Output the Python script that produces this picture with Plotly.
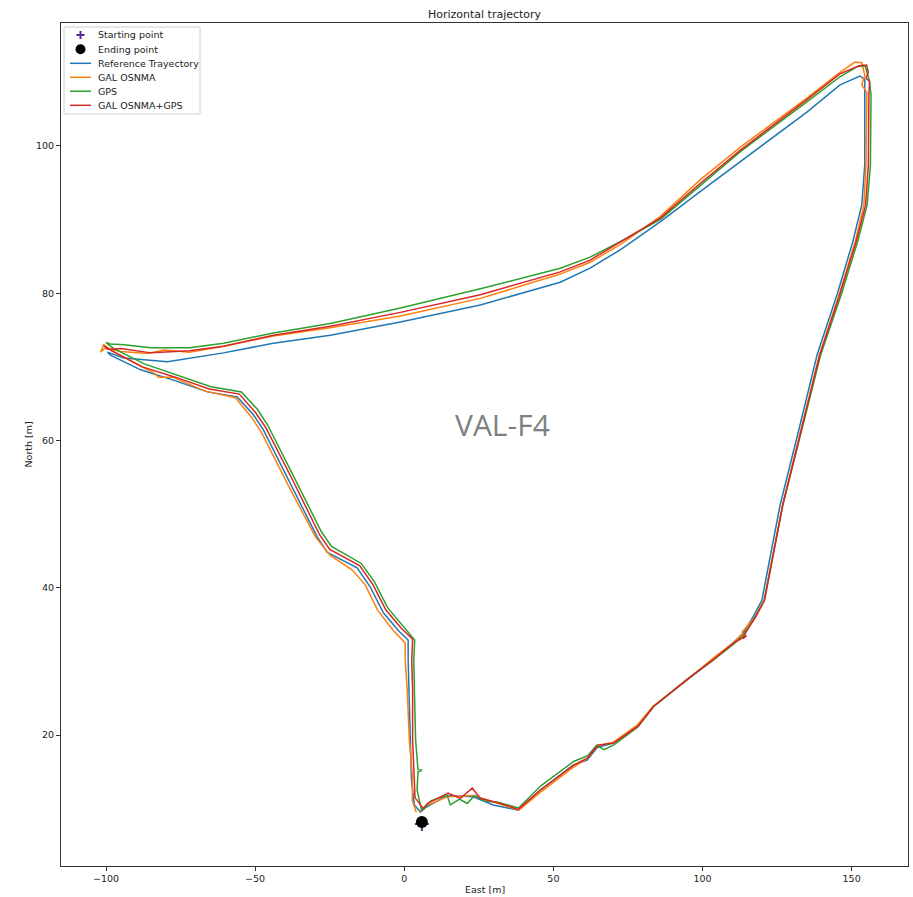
import plotly.graph_objects as go

# ---------------- data (East / North in metres) ----------------
ref_e = [5.4, 3.4, 2.4, 2.0, 1.7, 1.3, 1.3, -2.0, -7.0, -11.4, -15.8, -25.8, -29.2, -38.2, -47.2, -50.6,
         -56.0, -66.0, -77.4, -88.4, -98.5, -99.5, -94.1, -79.4, -60.6, -43.9, -24.8, -1.3, 25.5, 52.3,
         62.3, 72.4, 85.8, 99.2, 112.6, 135.0, 146.1, 152.8, 154.4, 154.4, 154.4, 153.4, 150.4, 145.1,
         138.4, 132.7, 126.0, 119.9, 116.9, 113.6, 110.2, 103.5, 94.8, 83.4, 78.1, 70.0, 64.7, 61.3,
         56.6, 45.6, 38.2, 29.8, 23.1, 14.4, 7.0, 5.4]
ref_n = [9.5, 10.5, 13.9, 19.3, 26.1, 30.2, 32.9, 34.2, 36.6, 40.1, 42.7, 44.8, 46.9, 54.2, 61.4, 63.5,
         65.9, 66.6, 68.2, 69.6, 71.6, 72.0, 71.2, 70.7, 71.9, 73.2, 74.3, 76.1, 78.4, 81.5,
         83.4, 85.9, 89.7, 93.8, 97.8, 104.6, 108.3, 109.5, 109.0, 106.9, 97.4, 92.0, 87.0, 79.8,
         71.6, 62.1, 51.2, 38.3, 36.0, 33.8, 32.5, 30.2, 27.5, 23.8, 21.1, 18.9, 18.3, 16.6,
         15.9, 12.5, 9.8, 10.5, 11.6, 11.8, 10.1, 9.5]

gal_e = [4.0, 2.7, 2.7, 1.7, 1.0, 0.3, 0.3, -3.7, -9.0, -13.1, -17.4, -24.8, -29.8, -38.9, -47.9, -51.3,
         -56.6, -66.7, -77.7, -82.4, -84.0, -88.4, -98.5, -100.8, -101.8, -100.2, -95.0, -86.0, -80.5,
         -72.0, -60.6, -43.9, -24.8, -1.3, 25.5, 52.3, 62.3, 72.4, 85.8, 99.2, 112.6, 135.0, 146.1,
         151.1, 153.4, 154.4, 153.4, 155.1, 154.8, 154.1, 151.2, 145.8, 139.2, 133.5, 126.8, 120.6,
         117.5, 113.3, 114.0, 113.0, 110.5, 103.5, 94.8, 83.4, 78.0, 70.0, 64.9, 61.3, 56.6, 45.6,
         38.4, 30.0, 23.1, 14.4, 7.0, 5.0]
gal_n = [9.5, 11.1, 14.5, 19.3, 26.1, 30.2, 32.5, 34.2, 37.0, 40.4, 42.4, 44.4, 46.9, 53.9, 61.1, 63.2,
         65.8, 66.7, 68.6, 68.6, 69.2, 70.1, 72.3, 73.0, 72.0, 72.6, 72.1, 71.8, 72.3,
         72.0, 72.8, 74.2, 75.3, 76.9, 79.3, 82.6, 84.2, 86.6, 90.4, 95.4, 99.8, 106.5, 110.0,
         111.4, 111.3, 109.6, 108.3, 107.3, 97.4, 92.0, 87.0, 79.8, 71.6, 62.1, 51.2, 38.3,
         36.0, 34.0, 33.2, 33.6, 32.6, 30.4, 27.5, 23.9, 21.3, 19.0, 18.6, 16.8, 15.6, 12.2,
         9.8, 10.9, 11.8, 11.6, 10.3, 9.6]

gps_e = [5.8, 4.3, 4.6, 6.0, 4.6, 3.8, 3.4, 3.2, 3.5, -0.3, -5.6, -10.0, -14.4, -24.4, -27.8, -36.8,
         -45.8, -49.2, -54.6, -64.8, -76.2, -87.2, -97.5, -100.0, -98.5, -94.0, -85.0, -72.0, -60.6,
         -43.9, -24.8, -1.3, 25.5, 52.3, 62.3, 72.4, 85.8, 99.2, 112.6, 135.0, 146.1, 152.0, 154.5,
         156.0, 156.5, 156.3, 155.2, 152.0, 146.5, 139.6, 133.8, 126.9, 120.7, 117.6, 114.3, 110.6,
         103.7, 94.9, 83.7, 78.3, 70.4, 67.0, 64.5, 61.5, 56.8, 45.8, 38.3, 31.0, 27.0, 23.6, 21.1,
         18.5, 15.4, 14.4, 9.0, 6.8, 5.8]
gps_n = [9.8, 12.5, 15.0, 15.2, 15.3, 19.3, 26.1, 30.2, 32.9, 34.7, 37.3, 40.8, 43.3, 45.6, 47.6, 54.9,
         62.1, 64.2, 66.6, 67.3, 68.9, 70.4, 72.5, 73.3, 73.1, 73.0, 72.6, 72.6, 73.2,
         74.6, 75.9, 78.0, 80.6, 83.4, 84.9, 87.0, 90.0, 94.6, 99.2, 106.0, 109.4, 110.8, 110.9,
         108.8, 106.9, 97.4, 92.0, 87.0, 79.8, 71.6, 62.1, 51.2, 38.3, 36.0, 33.8, 32.4,
         30.2, 27.6, 23.9, 21.1, 18.7, 18.0, 18.6, 17.2, 16.4, 13.1, 10.1, 10.9, 11.0, 11.8, 10.7,
         11.3, 10.5, 11.8, 11.1, 10.1, 9.8]

mix_e = [6.4, 3.6, 3.3, 2.8, 2.8, 2.5, 2.8, -1.0, -6.2, -10.6, -15.0, -25.0, -28.4, -37.4, -46.5, -49.9,
         -55.3, -65.4, -76.8, -87.8, -98.2, -100.8, -99.5, -95.0, -85.0, -72.0, -60.6, -43.9, -24.8,
         -1.3, 25.5, 52.3, 62.3, 72.4, 85.8, 99.2, 112.6, 135.0, 146.1, 152.5, 155.0, 155.6, 154.8,
         156.0, 155.8, 155.6, 154.7, 151.5, 146.0, 139.3, 133.6, 126.9, 120.8, 117.8, 114.5, 113.6,
         114.8, 110.8, 103.8, 95.0, 83.7, 78.4, 70.2, 64.9, 61.5, 56.8, 45.8, 38.2, 32.2, 25.5, 22.8,
         18.8, 14.7, 7.7, 6.4]
mix_n = [10.0, 11.5, 14.5, 19.3, 26.1, 30.2, 33.0, 34.5, 37.0, 40.5, 43.0, 45.2, 47.2, 54.6, 61.8, 63.8,
         66.3, 67.0, 68.6, 70.0, 72.2, 72.9, 72.4, 72.5, 71.9, 72.2, 72.8, 74.3, 75.5,
         77.4, 79.8, 82.9, 84.5, 86.9, 90.2, 94.9, 99.4, 106.3, 109.8, 110.9, 111.0, 110.0, 109.2,
         108.8, 107.0, 97.4, 92.0, 87.0, 79.8, 71.6, 62.1, 51.2, 38.3, 36.0, 34.0, 33.1,
         33.5, 32.6, 30.3, 27.6, 23.9, 21.2, 18.9, 18.6, 16.9, 15.9, 12.6, 9.9, 10.7, 11.4, 12.8,
         11.4, 12.1, 10.7, 10.0]

start_e, start_n = [5.9], [7.9]
end_e, end_n = [5.9], [8.2]

legend_labels = ["Starting point", "Ending point", "Reference Trayectory", "GAL OSNMA", "GPS", "GAL OSNMA+GPS"]
x_ticks = [-100, -50, 0, 50, 100, 150]
y_ticks = [20, 40, 60, 80, 100]

# ---------------- styles ----------------
C_REF, C_GAL, C_GPS, C_MIX = "#1f77b4", "#ff7f0e", "#2ca02c", "#d62728"
C_START = "#5a2d91"
W, H = 913, 897
ML, MR, MT, MB = 61, 5, 23, 31
PW, PH = W - ML - MR, H - MT - MB
FONT = "DejaVu Sans"


def px(xp):
    return (xp - ML) / PW


def py(yp):
    return (H - MB - yp) / PH


fig = go.Figure()
for e, n, c, name in [(ref_e, ref_n, C_REF, legend_labels[2]), (gal_e, gal_n, C_GAL, legend_labels[3]),
                      (gps_e, gps_n, C_GPS, legend_labels[4]), (mix_e, mix_n, C_MIX, legend_labels[5])]:
    fig.add_trace(go.Scatter(x=e, y=n, mode="lines", name=name, line=dict(color=c, width=1.5),
                             showlegend=False))

fig.add_trace(go.Scatter(x=start_e, y=start_n, mode="markers", name=legend_labels[0], showlegend=False,
                         marker=dict(symbol="cross-thin", size=10, line=dict(color=C_START, width=2))))
fig.add_trace(go.Scatter(x=end_e, y=end_n, mode="markers", name=legend_labels[1], showlegend=False,
                         marker=dict(symbol="circle", size=12, color="black")))

# ---------------- custom legend (matplotlib style) ----------------
shapes = [dict(type="rect", xref="paper", yref="paper", x0=px(64), x1=px(200), y0=py(114), y1=py(27),
               line=dict(color="#d0d0d0", width=1), fillcolor="rgba(255,255,255,0.85)", layer="above")]
item_y = [35, 49.3, 63.3, 77.3, 91.2, 105.3]
# plus
shapes.append(dict(type="line", xref="paper", yref="paper", x0=px(76.5), x1=px(84.5), y0=py(item_y[0]),
                   y1=py(item_y[0]), line=dict(color=C_START, width=2), layer="above"))
shapes.append(dict(type="line", xref="paper", yref="paper", x0=px(80.5), x1=px(80.5), y0=py(item_y[0] - 4),
                   y1=py(item_y[0] + 4), line=dict(color=C_START, width=2), layer="above"))
# circle
shapes.append(dict(type="circle", xref="paper", yref="paper", x0=px(75.5), x1=px(85.5), y0=py(item_y[1] + 5),
                   y1=py(item_y[1] - 5), fillcolor="black", line=dict(color="black", width=0), layer="above"))
for yy, c in zip(item_y[2:], [C_REF, C_GAL, C_GPS, C_MIX]):
    shapes.append(dict(type="line", xref="paper", yref="paper", x0=px(70), x1=px(91), y0=py(yy), y1=py(yy),
                       line=dict(color=c, width=1.5), layer="above"))

annotations = []
for yy, lab in zip(item_y, legend_labels):
    annotations.append(dict(xref="paper", yref="paper", x=px(96), y=py(yy), text=lab, showarrow=False,
                            xanchor="left", yanchor="middle", font=dict(family=FONT, size=9.5, color="#222")))

annotations.append(dict(xref="paper", yref="paper", x=0.5, y=py(890), text="East [m]", showarrow=False,
                        xanchor="center", yanchor="middle", font=dict(family=FONT, size=9.5, color="#222")))
annotations.append(dict(xref="paper", yref="paper", x=px(28), y=0.5, text="North [m]", showarrow=False,
                        textangle=-90, xanchor="center", yanchor="middle",
                        font=dict(family=FONT, size=9.5, color="#222")))
annotations.append(dict(xref="x", yref="y", x=32.8, y=62.2, text="VAL-F4", showarrow=False,
                        xanchor="center", yanchor="middle", font=dict(family="Open Sans", size=30, color="#808080")))

fig.update_layout(
    width=W, height=H,
    margin=dict(l=ML, r=MR, t=MT, b=MB, pad=0),
    paper_bgcolor="white", plot_bgcolor="white",
    title=dict(text="Horizontal trajectory", x=0.5, xref="paper", y=1 - 14 / H, yref="container",
               xanchor="center", yanchor="middle", font=dict(family=FONT, size=11, color="#222")),
    shapes=shapes, annotations=annotations, showlegend=False,
    xaxis=dict(range=[-115.1, 168.9], tickvals=x_ticks, showgrid=False, zeroline=False, showline=True,
               mirror=True, linecolor="#333", linewidth=1, ticks="outside", ticklen=4, tickcolor="#333",
               tickfont=dict(family=FONT, size=9.5, color="#222"), automargin=False),
    yaxis=dict(range=[2.21, 116.7], tickvals=y_ticks, showgrid=False, zeroline=False, showline=True,
               mirror=True, linecolor="#333", linewidth=1, ticks="outside", ticklen=4, tickcolor="#333",
               tickfont=dict(family=FONT, size=9.5, color="#222"), automargin=False),
)

fig.write_html("out.html", config={"displayModeBar": False},
               post_script="document.body.style.margin='0px';document.body.style.overflow='hidden';")
